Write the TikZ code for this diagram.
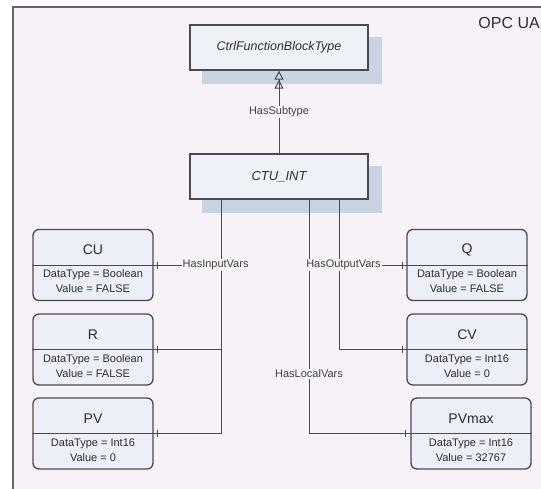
\documentclass[tikz,border=0pt]{standalone}
\usepackage{fontspec}
\setmainfont{Liberation Sans}
\usetikzlibrary{arrows.meta,backgrounds}
\definecolor{bgcol}{RGB}{247,242,247}
\definecolor{framecol}{RGB}{100,100,100}
\definecolor{boxfill}{RGB}{238,241,248}
\definecolor{varfill}{RGB}{236,239,247}
\definecolor{shadowcol}{RGB}{201,211,227}
\definecolor{bordercol}{RGB}{75,75,75}
\definecolor{textcol}{RGB}{45,45,45}
\definecolor{lblcol}{RGB}{65,65,65}
\tikzset{
  typebox/.style={draw=bordercol, line width=1.3pt, fill=boxfill, minimum width=178pt, minimum height=45pt, inner sep=0pt, text=textcol, font=\fontsize{12.5}{15}\selectfont\itshape},
  varbox/.style={draw=bordercol, line width=1.3pt, fill=varfill, rounded corners=6pt, minimum width=120pt, minimum height=71pt, inner sep=0pt},
  divider/.style={draw=bordercol, line width=1pt},
  vtitle/.style={inner sep=0pt, text=textcol, font=\fontsize{14}{16}\selectfont},
  vbody/.style={inner sep=0pt, text=textcol, align=center, font=\fontsize{11}{15}\selectfont},
  conn/.style={draw=bordercol, line width=1pt},
  lbl/.style={fill=bgcol, inner sep=1pt, text=lblcol, font=\fontsize{11}{13}\selectfont},
  shadowbox/.style={fill=shadowcol},
  subarrow/.style={-{Triangle[open,length=9pt,width=9pt,line width=1pt]Triangle[open,length=9pt,width=9pt,line width=1pt]}}
}
\newcommand\mkvar[6]{%
  \node[varbox] (#1) at (#2,#3) {};
  \draw[divider] (#1.west) -- (#1.east);
  \node[vtitle] (#1-t) at ([yshift=15pt]#1.center) {#4};
  \node[vbody] (#1-b) at ([yshift=-16.5pt]#1.center) {DataType = #5\\Value = #6};
}
\newcommand\mktick[2]{\draw[conn] ([xshift=#2]#1) ++(0,-3.5) -- ++(0,7);}
\begin{document}
\begin{tikzpicture}[x=1pt,y=-1pt]
\useasboundingbox (0,0) rectangle (541,488);
% type boxes
\node[typebox] (CFB) at (279,47.5) {CtrlFunctionBlockType};
\node[typebox, font=\fontsize{13}{15}\selectfont\itshape] (CTU) at (279,176.5) {CTU\_INT};
% variable boxes
\mkvar{CU}{93}{265}{CU}{Boolean}{FALSE}
\mkvar{R}{93}{349.5}{R}{Boolean}{FALSE}
\mkvar{PV}{93}{433.5}{PV}{Int16}{0}
\mkvar{Q}{467}{265}{Q}{Boolean}{FALSE}
\mkvar{CV}{467}{349.5}{CV}{Int16}{0}
\mkvar{PVmax}{471}{433.5}{PVmax}{Int16}{32767}
% background, frame and shadows
\begin{scope}[on background layer]
  \fill[bgcol] (13,7) rectangle (560,500);
  \draw[framecol, line width=1.3pt] (13,500) -- (13,7) -- (560,7);
  \fill[shadowbox] ([xshift=13pt,yshift=-13pt]CFB.south west) rectangle ([xshift=13pt,yshift=-13pt]CFB.north east);
  \fill[shadowbox] ([xshift=13pt,yshift=-13pt]CTU.south west) rectangle ([xshift=13pt,yshift=-13pt]CTU.north east);
\end{scope}
\node[anchor=east, inner sep=0pt, text=textcol, font=\fontsize{16}{18}\selectfont] (opc) at (540,22.5) {OPC UA};
% HasSubtype
\draw[conn, subarrow] (CTU.north) -- (CFB.south) node[lbl, pos=0.5] {HasSubtype};
% input vars
\coordinate (inx) at (221,0);
\draw[conn] (inx |- CTU.south) |- (PV.east);
\draw[conn] (inx |- R.east) -- (R.east);
\draw[conn] (inx |- CU.east) -- (CU.east) node[lbl, pos=0.08] {HasInputVars};
\mktick{CU.east}{4pt}
\mktick{R.east}{4pt}
\mktick{PV.east}{4pt}
% local vars
\coordinate (locx) at (309,0);
\draw[conn] (locx |- CTU.south) -- (locx |- PVmax.west) node[lbl, pos=0.744] {HasLocalVars};
\draw[conn] (locx |- PVmax.west) -- (PVmax.west);
\mktick{PVmax.west}{-5pt}
% output vars
\coordinate (outx) at (339,0);
\draw[conn] (outx |- CTU.south) |- (CV.west);
\draw[conn] (outx |- Q.west) -- (Q.west) node[lbl, pos=0.066] {HasOutputVars};
\mktick{Q.west}{-4pt}
\mktick{CV.west}{-4pt}
\end{tikzpicture}
\end{document}
